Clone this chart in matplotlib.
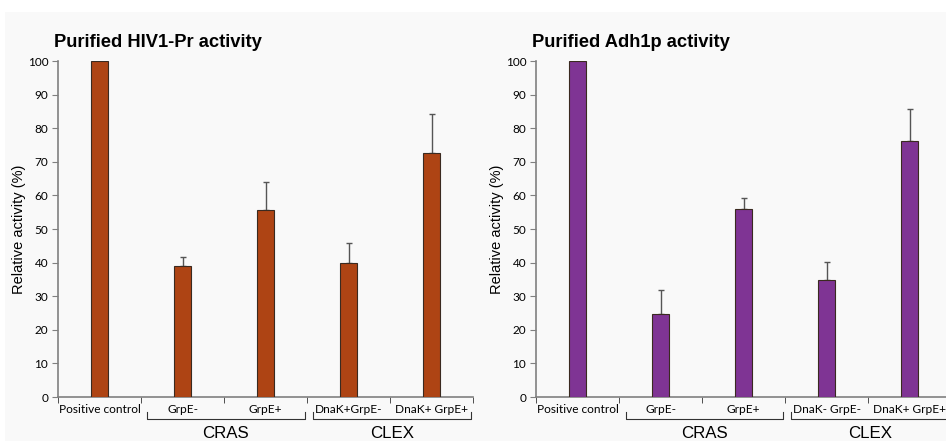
import numpy as np
import matplotlib.pyplot as plt
from matplotlib.patches import Rectangle

# data
labels_hiv = ['Positive control', 'GrpE-', 'GrpE+', 'DnaK+GrpE-', 'DnaK+ GrpE+']
labels_adh = ['Positive control', 'GrpE-', 'GrpE+', 'DnaK- GrpE-', 'DnaK+ GrpE+']
hiv_vals = [100, 39.0, 55.6, 40.0, 72.5]
hiv_err  = [0, 2.8, 8.3, 5.9, 11.6]
adh_vals = [100, 24.6, 56.0, 34.9, 76.2]
adh_err  = [0, 7.1, 3.1, 5.3, 9.5]
groups   = ['CRAS', 'CLEX']
titles   = ['Purified HIV1-Pr activity', 'Purified Adh1p activity']

BG = '#f9f9f9'
W, H = 946, 441

fig = plt.figure(figsize=(W / 100, H / 100), dpi=100, facecolor='white')
fig.patches.append(Rectangle((5 / W, 0), 1, (H - 12) / H, transform=fig.transFigure,
                             facecolor=BG, edgecolor='none', zorder=-10))

tick_font = 'Lato'


def panel(left_px, vals, err, labels, color, title, group_spans):
    ax = fig.add_axes([left_px / W, 44 / H, 415 / W, 336 / H])
    ax.patch.set_alpha(0)
    x = np.arange(len(vals))
    ax.bar(x, vals, width=0.21, color=color, edgecolor='#3a2a20', linewidth=0.8, zorder=3)
    lower = np.zeros(len(err))
    has = np.array(err) > 0
    ax.errorbar(x[has], np.array(vals)[has], yerr=[lower[has], np.array(err)[has]],
                fmt='none', ecolor='#555555', elinewidth=1.0, capsize=2.5, capthick=1.0, zorder=2)
    ax.set_xlim(-0.5, len(vals) - 0.5)
    ax.set_ylim(0, 100)
    ax.set_yticks(np.arange(0, 101, 10))
    for s in ['top', 'right']:
        ax.spines[s].set_visible(False)
    for s in ['left', 'bottom']:
        ax.spines[s].set_color('#808080')
        ax.spines[s].set_linewidth(1.2)
    ax.tick_params(axis='y', length=4, color='#808080', labelsize=8.5, pad=3)
    ax.set_xticks(x)
    ax.set_xticklabels(labels, fontsize=8.6, fontfamily=tick_font)
    ax.tick_params(axis='x', which='major', length=0, pad=5)
    ax.set_xticks(np.arange(-0.5, len(vals)), minor=True)
    ax.tick_params(axis='x', which='minor', length=4, color='#333333', direction='out')
    for t in ax.get_yticklabels():
        t.set_fontfamily(tick_font)
    ax.set_ylabel('Relative activity (%)', fontsize=10.5, fontfamily='Liberation Sans', labelpad=1)
    ax.set_title(title, loc='left', x=-0.01, fontsize=13.2, fontweight='bold',
                 fontfamily='Liberation Sans', pad=10)
    trans = ax.get_xaxis_transform()
    for name, (a, b) in zip(groups, group_spans):
        ax.plot([a, a, b, b], [-0.045, -0.066, -0.066, -0.045], color='#333333', lw=0.8,
                transform=trans, clip_on=False)
        ax.text((a + b) / 2, -0.11, name, transform=trans, ha='center', va='center',
                fontsize=12.2, fontfamily='Liberation Sans')
    return ax


panel(58, hiv_vals, hiv_err, labels_hiv, '#ae4414', titles[0], [(0.57, 2.47), (2.57, 4.47)])
panel(536, adh_vals, adh_err, labels_adh, '#7f3494', titles[1], [(0.58, 2.47), (2.57, 4.47)])

fig.savefig('out.png', dpi=100, facecolor=fig.get_facecolor())
